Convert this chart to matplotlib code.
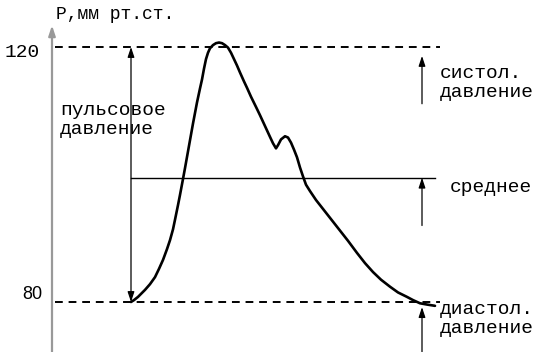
import matplotlib
matplotlib.use('Agg')
import matplotlib.pyplot as plt

# кривая давления (время в усл. ед., давление мм рт.ст.)
t = [131, 134, 138, 145, 150, 155, 159, 163, 167, 170, 173, 175, 178, 180, 183, 185,
     189, 193, 197, 200, 202, 204, 206, 208, 210, 213, 216, 219, 222, 225, 228, 231,
     234, 237, 240, 244, 247, 251, 256, 260, 265, 270, 273, 276, 278, 281, 285, 288,
     291, 294, 297, 300, 303, 306, 310, 316, 323, 331, 340, 348, 357, 365, 373, 381,
     390, 398, 407, 413, 420, 427, 435]
p = [80.0, 80.3, 80.8, 81.9, 82.8, 83.9, 85.2, 86.6, 88.3, 89.7, 91.4, 92.9, 95.2,
     96.8, 99.3, 101.0, 104.5, 108.0, 111.3, 113.5, 114.9, 116.6, 118.1, 119.1, 119.8,
     120.3, 120.6, 120.7, 120.6, 120.3, 119.9, 119.1, 118.1, 117.1, 116.0, 114.6,
     113.6, 112.2, 110.6, 109.3, 107.6, 105.9, 104.9, 104.1, 104.6, 105.5, 106.0, 105.8,
     105.0, 103.9, 102.7, 101.1, 99.7, 98.4, 97.4, 96.0, 94.6, 93.0, 91.2, 89.6, 87.7,
     86.1, 84.7, 83.5, 82.4, 81.5, 80.8, 80.3, 79.8, 79.6, 79.4]

p_sys = 120
p_dia = 80
p_mean = 99.5
y_ticks = [80, 120]
y_label = 'P,мм рт.ст.'

mono = 'Liberation Mono'

fig = plt.figure(figsize=(5.39, 3.52), dpi=100)
ax = fig.add_axes([0, 0, 1, 1])
ax.set_xlim(0, 539)
ax.set_ylim(72.157, 127.373)
ax.axis('off')

# ось давления
ax.annotate('', xy=(52, 123.4), xytext=(52, 72.2),
            arrowprops=dict(arrowstyle='-|>,head_length=0.6,head_width=0.2',
                            color='#999999', lw=1.6, shrinkA=0, shrinkB=0))
ax.text(56, 125.1, y_label, family=mono, fontsize=13, va='center', ha='left')

# систолическое и диастолическое
ax.plot([55, 440], [p_sys, p_sys], color='black', lw=1.4, ls=(0, (4, 3)))
ax.plot([55, 440], [p_dia, p_dia], color='black', lw=1.4, ls=(0, (4, 3)))
ax.text(40, y_ticks[1] - 0.8, str(y_ticks[1]), family=mono, fontsize=14, ha='right', va='center')
ax.text(42, y_ticks[0] + 1.2, str(y_ticks[0]), family='Liberation Sans', fontsize=13,
        ha='right', va='center')

# среднее
ax.plot([131, 435], [p_mean, p_mean], color='black', lw=1.0)

# кривая
ax.plot(t, p, color='black', lw=1.9, solid_joinstyle='round', solid_capstyle='round')

# пульсовое давление
ax.annotate('', xy=(131, p_sys), xytext=(131, p_dia),
            arrowprops=dict(arrowstyle='<|-|>,head_length=0.6,head_width=0.2',
                            color='black', lw=0.9, shrinkA=0, shrinkB=0))
ax.text(60, 108.5, 'пульсовое\nдавление', family=mono, fontsize=14, ha='left', va='center',
        linespacing=1.15)

# стрелки справа
def up_arrow(y0, y1):
    ax.annotate('', xy=(422, y1), xytext=(422, y0),
                arrowprops=dict(arrowstyle='-|>,head_length=0.6,head_width=0.2',
                                color='black', lw=0.9, shrinkA=0, shrinkB=0))

up_arrow(111.1, 118.6)
up_arrow(92.0, 99.5)
up_arrow(72.2, 79.2)

ax.text(440, 114.3, 'систол.\nдавление', family=mono, fontsize=14, ha='left', va='center',
        linespacing=1.15)
ax.text(450, 98.0, 'среднее', family=mono, fontsize=14, ha='left', va='center')
ax.text(440, 77.4, 'диастол.\nдавление', family=mono, fontsize=14, ha='left', va='center',
        linespacing=1.15)

fig.savefig('out.png', dpi=100)
